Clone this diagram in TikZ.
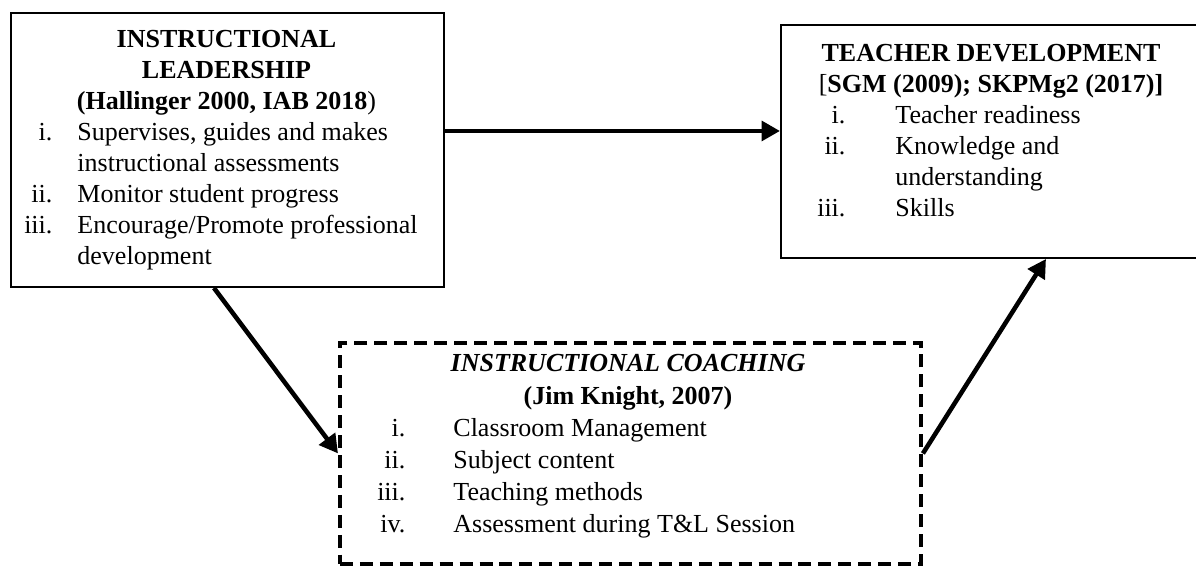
\documentclass[tikz,border=0pt]{standalone}
\usepackage{fontspec}
\setmainfont{Liberation Serif}
\usepackage{array}
\usetikzlibrary{arrows.meta}
\newdimen\px \px=0.4615pt
\newcolumntype{R}[1]{>{\raggedleft\arraybackslash}p{#1}}
\tikzset{
	box/.style={draw, line width=0.9pt, inner sep=0pt, anchor=north west},
	dashbox/.style={box, line width=1.8pt, dash pattern=on 6pt off 3.2pt},
	txt/.style={inner sep=0pt, font=\fontsize{12}{14.3}\selectfont},
	head/.style={txt, anchor=base},
	items/.style={txt, anchor=base west},
	link/.style={line width=2.1pt, -{Triangle[length=8.5pt, width=9pt]}}
}

\begin{document}
\begin{tikzpicture}[x=0.4615pt, y=-0.4615pt]
			%%%%% START %%%%%
			\useasboundingbox (0, 0) rectangle (1196, 566);
			
			\node[box, minimum width=433\px, minimum height=274\px] (lead) at (10, 12) {};
			\node[head] (leadhead) at (226.5, 48) {\begin{tabular}[t]{@{}c@{}}
				\textbf{INSTRUCTIONAL}\\
				\textbf{LEADERSHIP}\\
				\textbf{(Hallinger 2000, IAB 2018}) \end{tabular}};
			\node[items] (leadlist) at (12, 141) {\begin{tabular}[t]{@{}R{40\px}@{\hspace{25\px}}l@{}}
				i. & Supervises, guides and makes\\
				& instructional assessments\\
				ii. & Monitor student progress\\
				iii. & Encourage/Promote professional\\
				& development \end{tabular}};
			
			\node[box, minimum width=424\px, minimum height=233\px] (dev) at (780, 24) {};
			\node[head] (devhead) at (991, 62) {\begin{tabular}[t]{@{}c@{}}
				\textbf{TEACHER DEVELOPMENT}\\
				{[}\textbf{SGM (2009); SKPMg2 (2017)]} \end{tabular}};
			\node[items] (devlist) at (805, 124) {\begin{tabular}[t]{@{}R{40\px}@{\hspace{50\px}}l@{}}
				i. & Teacher readiness\\
				ii. & Knowledge and\\
				& understanding\\
				iii. & Skills \end{tabular}};
			
			\node[dashbox, minimum width=581\px, minimum height=221\px] (coach) at (338, 341) {};
			\node[head, font=\fontsize{12}{14.8}\selectfont] (coachhead) at (628, 372) {\begin{tabular}[t]{@{}c@{}}
				\textbf{\textit{INSTRUCTIONAL COACHING}}\\
				\textbf{(Jim Knight, 2007)} \end{tabular}};
			\node[items, font=\fontsize{12}{14.8}\selectfont] (coachlist) at (365, 436) {\begin{tabular}[t]{@{}R{40\px}@{\hspace{48\px}}l@{}}
				i. & Classroom Management\\
				ii. & Subject content\\
				iii. & Teaching methods\\
				iv. & Assessment during T\&L Session \end{tabular}};
			
			\draw[link] ([yshift=19\px]lead.east) -- ([yshift=10.5\px]dev.west);
			\draw[link] ([xshift=-13.5\px]lead.south) -- (coach.west);
			\draw[link] (coach.east) -- ([xshift=53\px]dev.south);
			
			%%%%% END %%%%%
\end{tikzpicture}
\end{document}
